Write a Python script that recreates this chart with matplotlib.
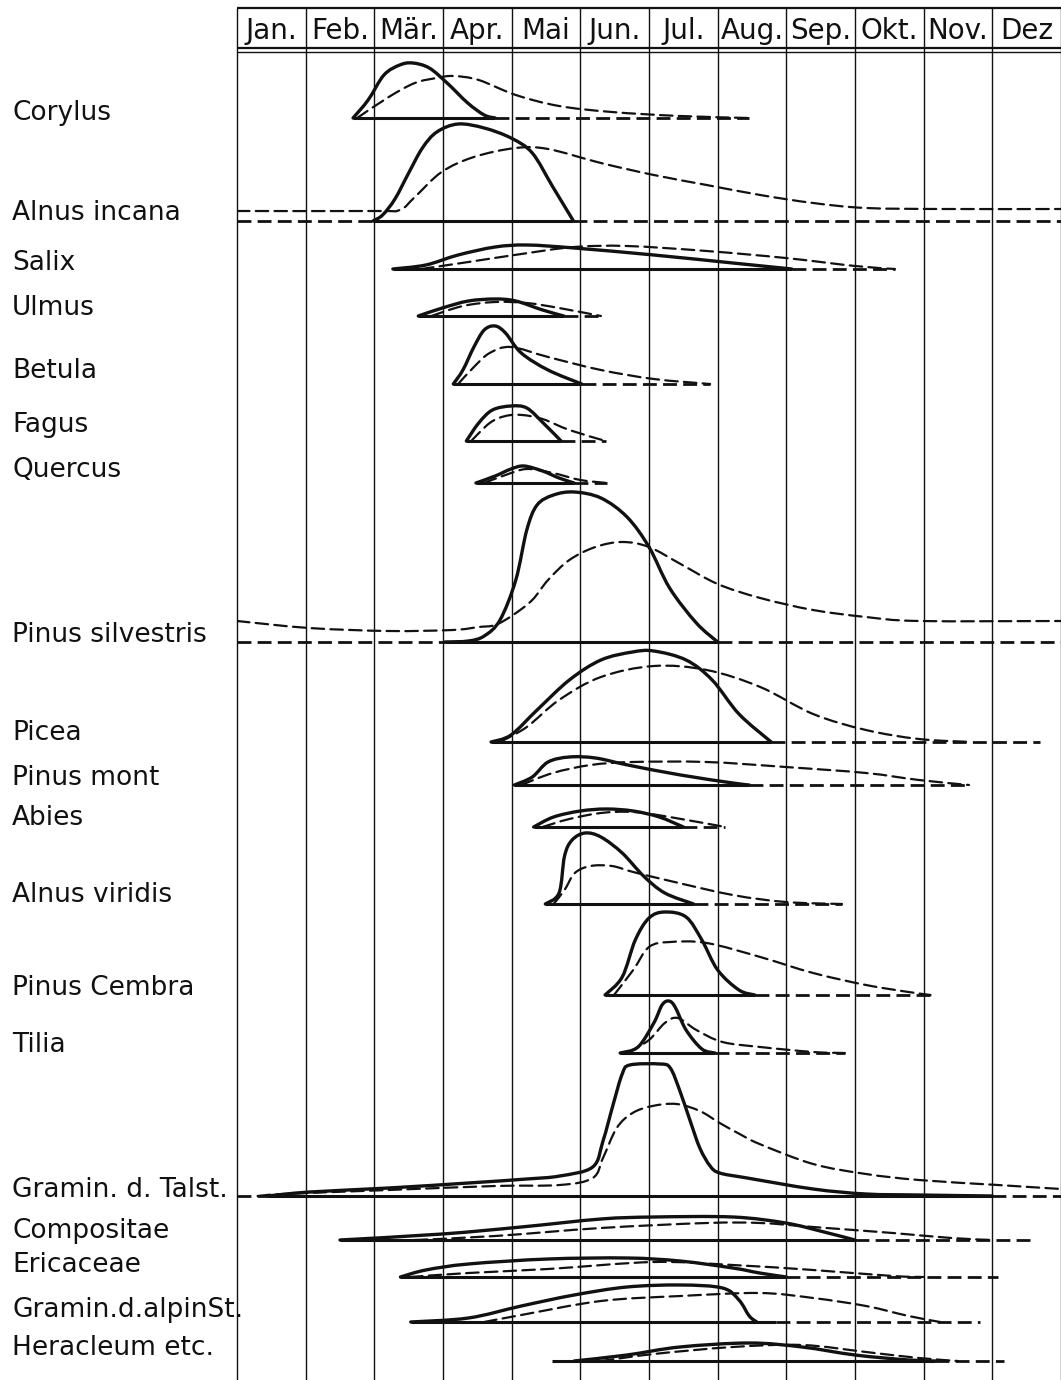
#!/usr/bin/env python3
"""Pollen flowering calendar: solid = flowering, dashed = pollen in the air."""

import matplotlib

matplotlib.use("Agg")
import matplotlib.pyplot as plt
import numpy as np
from matplotlib.patches import PathPatch
from matplotlib.path import Path

plt.rcParams["lines.scale_dashes"] = False
plt.rcParams["font.family"] = ["DejaVu Sans"]

OUTPUT = "out.png"

MONTHS = ["Jan.", "Feb.", "Mär.", "Apr.", "Mai", "Jun.", "Jul.", "Aug.", "Sep.", "Okt.", "Nov.", "Dez"]

LABELS = [
    "Corylus", "Alnus incana", "Salix", "Ulmus", "Betula", "Fagus", "Quercus",
    "Pinus silvestris", "Picea", "Pinus mont", "Abies", "Alnus viridis",
    "Pinus Cembra", "Tilia", "Gramin. d. Talst.", "Compositae", "Ericaceae",
    "Gramin.d.alpinSt.", "Heracleum etc.",
]

# curve x in months (0 = 1 Jan), heights in pixels above the row baseline
CORYLUS_SOLID_X = [1.69, 1.91, 2.14, 2.37, 2.56, 2.80, 3.06, 3.36, 3.60, 3.76]
CORYLUS_SOLID_H = [0, 18, 43, 53, 55, 50, 35, 15, 3, 0]
CORYLUS_DASH_X = [1.75, 2.21, 2.59, 2.91, 3.15, 3.52, 4.06, 4.69, 5.46, 6.45, 7.46]
CORYLUS_DASH_H = [0, 21, 35, 40, 42, 38, 23, 12, 6, 2, 0]

ALNUS_I_SOLID_X = [1.98, 2.12, 2.30, 2.50, 2.70, 2.91, 3.22, 3.60, 3.99, 4.30, 4.60, 4.90]
ALNUS_I_SOLID_H = [0, 6, 22, 48, 73, 89, 97, 93, 83, 68, 34, 0]
ALNUS_I_DASH_X = [0, 2.0, 2.37, 2.59, 2.98, 3.45, 4.06, 4.53, 5.30, 6.07, 6.84, 7.62, 8.39, 9.16, 10.3, 12]
ALNUS_I_DASH_H = [10, 10, 11, 24, 49, 64, 73, 72, 58, 46, 36, 26, 18, 13, 12, 12]

SALIX_SOLID_X = [2.27, 2.75, 3.22, 3.76, 4.22, 4.91, 6.07, 7.22, 8.08]
SALIX_SOLID_H = [0, 4, 14, 22, 24, 21, 14, 6, 0]
SALIX_DASH_X = [2.68, 3.37, 4.14, 4.91, 5.68, 6.84, 7.99, 9.0, 9.58]
SALIX_DASH_H = [0, 7, 15, 22, 23, 18, 11, 3, 0]

ULMUS_SOLID_X = [2.64, 2.99, 3.37, 3.76, 4.06, 4.45, 4.76]
ULMUS_SOLID_H = [0, 8, 15, 17, 15, 6, 0]
ULMUS_DASH_X = [2.83, 3.29, 3.76, 4.22, 4.69, 5.30]
ULMUS_DASH_H = [0, 10, 14, 13, 8, 0]

BETULA_SOLID_X = [3.15, 3.29, 3.45, 3.60, 3.76, 3.91, 4.14, 4.53, 5.02]
BETULA_SOLID_H = [0, 14, 37, 54, 58, 51, 31, 14, 0]
BETULA_DASH_X = [3.22, 3.45, 3.68, 3.99, 4.53, 5.30, 6.07, 6.89]
BETULA_DASH_H = [0, 17, 31, 37, 27, 14, 5, 0]

FAGUS_SOLID_X = [3.34, 3.52, 3.72, 3.99, 4.22, 4.46, 4.72]
FAGUS_SOLID_H = [0, 18, 31, 35, 33, 18, 0]
FAGUS_DASH_X = [3.41, 3.68, 3.91, 4.15, 4.45, 4.84, 5.37]
FAGUS_DASH_H = [0, 18, 25, 26, 22, 11, 0]

QUERCUS_SOLID_X = [3.48, 3.76, 3.99, 4.18, 4.45, 4.69, 4.91]
QUERCUS_SOLID_H = [0, 7, 14, 17, 12, 5, 0]
QUERCUS_DASH_X = [3.60, 3.91, 4.22, 4.60, 5.0, 5.39]
QUERCUS_DASH_H = [0, 8, 14, 10, 3, 0]

PINUS_S_SOLID_X = [3.03, 3.37, 3.60, 3.83, 4.06, 4.22, 4.37, 4.61, 4.91, 5.30, 5.68, 6.0, 6.30, 6.69, 7.0]
PINUS_S_SOLID_H = [0, 1, 6, 22, 62, 112, 137, 147, 150, 144, 125, 95, 54, 19, 0]
PINUS_S_DASH_X = [0, 1.05, 2.21, 3.14, 3.52, 3.76, 4.02, 4.30, 4.53, 4.84, 5.22, 5.61, 6.0, 6.46, 7.0,
                  7.62, 8.39, 9.16, 9.93, 12]
PINUS_S_DASH_H = [21, 14, 11, 12, 15, 17, 27, 42, 62, 82, 95, 100, 95, 78, 58, 44, 32, 25, 21, 21]

PICEA_SOLID_X = [3.70, 3.99, 4.37, 4.84, 5.30, 5.76, 6.07, 6.54, 6.92, 7.31, 7.78]
PICEA_SOLID_H = [0, 7, 32, 62, 82, 90, 91, 82, 62, 28, 0]
PICEA_DASH_X = [3.83, 4.22, 4.69, 5.30, 6.07, 6.84, 7.62, 8.39, 9.16, 9.93, 10.7]
PICEA_DASH_H = [0, 15, 42, 65, 76, 72, 55, 28, 12, 3, 0]

PINUS_M_SOLID_X = [4.04, 4.30, 4.53, 4.84, 5.22, 5.69, 6.46, 7.22, 7.46]
PINUS_M_SOLID_H = [0, 8, 23, 28, 27, 20, 10, 2, 0]
PINUS_M_DASH_X = [4.14, 4.60, 5.15, 5.76, 6.84, 7.99, 9.16, 9.93, 10.66]
PINUS_M_DASH_H = [0, 12, 20, 23, 23, 18, 12, 5, 0]

ABIES_SOLID_X = [4.32, 4.61, 5.0, 5.38, 5.77, 6.15, 6.5]
ABIES_SOLID_H = [0, 10, 16, 18, 16, 10, 0]
ABIES_DASH_X = [4.45, 4.84, 5.30, 5.77, 6.30, 7.11]
ABIES_DASH_H = [0, 8, 14, 15, 10, 0]

ALNUS_V_SOLID_X = [4.49, 4.69, 4.77, 4.88, 5.07, 5.30, 5.61, 5.92, 6.23, 6.65]
ALNUS_V_SOLID_H = [0, 11, 48, 64, 71, 67, 51, 28, 11, 0]
ALNUS_V_DASH_X = [4.61, 4.77, 4.92, 5.15, 5.46, 5.77, 6.31, 7.22, 7.99, 8.81]
ALNUS_V_DASH_H = [0, 14, 31, 38, 38, 32, 23, 9, 2, 0]

CEMBRA_SOLID_X = [5.36, 5.61, 5.80, 6.0, 6.23, 6.54, 6.77, 7.0, 7.31, 7.54]
CEMBRA_SOLID_H = [0, 18, 55, 77, 83, 78, 55, 25, 5, 0]
CEMBRA_DASH_X = [5.49, 5.77, 6.0, 6.31, 6.84, 7.62, 8.39, 9.16, 9.78, 10.1]
CEMBRA_DASH_H = [0, 25, 48, 53, 52, 38, 22, 10, 3, 0]

TILIA_SOLID_X = [5.58, 5.84, 6.07, 6.19, 6.29, 6.38, 6.54, 6.77, 6.96]
TILIA_SOLID_H = [0, 6, 30, 48, 52, 46, 23, 4, 0]
TILIA_DASH_X = [5.69, 6.0, 6.23, 6.42, 6.69, 7.07, 7.62, 8.39, 8.85]
TILIA_DASH_H = [0, 13, 30, 35, 23, 11, 6, 1, 0]

GRAMIN_T_SOLID_X = [0.44, 1.06, 2.21, 3.37, 4.22, 4.70, 5.18, 5.33, 5.48, 5.61, 5.72, 6.16, 6.31, 6.45,
                    6.60, 6.74, 6.89, 7.03, 7.43, 8.39, 9.16, 9.93, 11.0]
GRAMIN_T_SOLID_H = [0, 4, 8, 13, 17, 20, 29, 55, 92, 122, 131, 132, 128, 105, 75, 48, 30, 23, 18, 7, 2, 1, 0]
GRAMIN_T_DASH_X = [0.3, 0.67, 2.21, 3.76, 4.70, 5.18, 5.33, 5.53, 5.76, 6.05, 6.40, 6.74, 7.03, 7.32,
                   7.61, 8.39, 9.16, 9.93, 11.08, 12]
GRAMIN_T_DASH_H = [0, 2, 6, 10, 11, 18, 38, 68, 83, 90, 92, 85, 73, 62, 52, 32, 22, 16, 11, 7]

COMPOSITAE_SOLID_X = [1.50, 2.99, 4.14, 5.30, 6.07, 7.22, 7.99, 8.55, 9.0]
COMPOSITAE_SOLID_H = [0, 6, 13, 21, 23, 23, 17, 8, 0]
COMPOSITAE_DASH_X = [2.59, 3.76, 5.30, 6.84, 7.62, 8.39, 9.55, 10.4, 11.0]
COMPOSITAE_DASH_H = [0, 4, 12, 17, 17, 13, 7, 2, 0]

ERICACEAE_SOLID_X = [2.38, 2.75, 3.37, 4.53, 5.68, 6.45, 7.22, 7.61, 8.0]
ERICACEAE_SOLID_H = [0, 7, 13, 18, 19, 16, 9, 4, 0]
ERICACEAE_DASH_X = [2.52, 3.37, 4.53, 6.07, 7.22, 8.39, 9.55, 10.0]
ERICACEAE_DASH_H = [0, 4, 8, 15, 12, 7, 1, 0]

GRAMIN_A_SOLID_X = [2.53, 3.37, 4.14, 4.91, 5.68, 6.46, 7.07, 7.31, 7.46, 7.57]
GRAMIN_A_SOLID_H = [0, 4, 16, 27, 35, 37, 34, 22, 6, 0]
GRAMIN_A_DASH_X = [3.60, 4.14, 5.30, 6.46, 7.61, 8.39, 9.16, 9.78, 10.24]
GRAMIN_A_DASH_H = [0, 7, 21, 26, 29, 24, 16, 6, 0]

HERACLEUM_SOLID_X = [4.91, 5.68, 6.45, 7.46, 8.23, 9.0, 9.78, 10.17]
HERACLEUM_SOLID_H = [0, 6, 14, 18, 14, 6, 1, 0]
HERACLEUM_DASH_X = [5.30, 6.07, 7.22, 8.23, 9.16, 9.93, 10.5]
HERACLEUM_DASH_H = [0, 7, 14, 16, 9, 3, 0]

# baseline extents in months: solid part, then dashed continuation
BASE_SOLID_START = [1.69, 1.98, 2.27, 2.64, 3.15, 3.34, 3.48, 3.03, 3.70, 4.04, 4.32, 4.49, 5.36, 5.58,
                    0.44, 1.50, 2.38, 2.53, 4.59]
BASE_SOLID_END = [3.76, 4.90, 8.08, 4.76, 5.02, 4.72, 4.91, 7.0, 7.78, 7.46, 6.5, 6.65, 7.54, 6.96,
                  11.0, 9.0, 8.0, 7.85, 10.17]
BASE_DASH_END = [7.46, 12, 9.58, 5.30, 6.89, 5.37, 5.39, 12, 11.7, 10.66, 7.11, 8.81, 10.1, 8.85,
                 12, 11.63, 11.08, 10.82, 11.17]
BASE_DASH_LEFT = [None, 0, None, None, None, None, None, 0, None, None, None, None, None, None,
                  0, None, None, None, None]

# layout (pixel rows of the 1061 x 1380 sheet)
ROW_Y = [118, 221, 269, 316, 384, 441, 483, 642, 742, 785, 827, 904, 995, 1053, 1196, 1240, 1277, 1322, 1361]
LABEL_Y = [120, 220, 270, 315, 378, 432, 477, 642, 740, 785, 825, 902, 995, 1052, 1197, 1238, 1272, 1317, 1355]
WIDTH, HEIGHT = 1061, 1380
GRID_LEFT = 237
MONTH_PX = (WIDTH - GRID_LEFT) / 12
LABEL_X = (12 - GRID_LEFT) / MONTH_PX
INK = "#111111"
CURVE_DASH = (0, (9.0, 4.5))
BASE_DASH = (0, (10.0, 4.5))


def smooth_path(xs, ys):
    pts = np.column_stack([xs, ys]).astype(float)
    n = len(pts)
    verts = [pts[0]]
    codes = [Path.MOVETO]
    for i in range(n - 1):
        p0 = pts[i - 1] if i > 0 else pts[i]
        p1, p2 = pts[i], pts[i + 1]
        p3 = pts[i + 2] if i + 2 < n else pts[i + 1]
        verts += [p1 + (p2 - p0) / 6.0, p2 - (p3 - p1) / 6.0, p2]
        codes += [Path.CURVE4] * 3
    return Path(verts, codes)


def draw_curve(ax, xs, hs, base, dashed):
    ys = base - np.asarray(hs, dtype=float)
    patch = PathPatch(
        smooth_path(xs, ys),
        fill=False,
        edgecolor=INK,
        linewidth=1.6 if dashed else 2.4,
        linestyle=CURVE_DASH if dashed else "-",
        capstyle="round",
        joinstyle="round",
    )
    ax.add_patch(patch)


def main() -> None:
    solids = [
        (CORYLUS_SOLID_X, CORYLUS_SOLID_H), (ALNUS_I_SOLID_X, ALNUS_I_SOLID_H), (SALIX_SOLID_X, SALIX_SOLID_H),
        (ULMUS_SOLID_X, ULMUS_SOLID_H), (BETULA_SOLID_X, BETULA_SOLID_H), (FAGUS_SOLID_X, FAGUS_SOLID_H),
        (QUERCUS_SOLID_X, QUERCUS_SOLID_H), (PINUS_S_SOLID_X, PINUS_S_SOLID_H), (PICEA_SOLID_X, PICEA_SOLID_H),
        (PINUS_M_SOLID_X, PINUS_M_SOLID_H), (ABIES_SOLID_X, ABIES_SOLID_H), (ALNUS_V_SOLID_X, ALNUS_V_SOLID_H),
        (CEMBRA_SOLID_X, CEMBRA_SOLID_H), (TILIA_SOLID_X, TILIA_SOLID_H), (GRAMIN_T_SOLID_X, GRAMIN_T_SOLID_H),
        (COMPOSITAE_SOLID_X, COMPOSITAE_SOLID_H), (ERICACEAE_SOLID_X, ERICACEAE_SOLID_H),
        (GRAMIN_A_SOLID_X, GRAMIN_A_SOLID_H), (HERACLEUM_SOLID_X, HERACLEUM_SOLID_H),
    ]
    dashes = [
        (CORYLUS_DASH_X, CORYLUS_DASH_H), (ALNUS_I_DASH_X, ALNUS_I_DASH_H), (SALIX_DASH_X, SALIX_DASH_H),
        (ULMUS_DASH_X, ULMUS_DASH_H), (BETULA_DASH_X, BETULA_DASH_H), (FAGUS_DASH_X, FAGUS_DASH_H),
        (QUERCUS_DASH_X, QUERCUS_DASH_H), (PINUS_S_DASH_X, PINUS_S_DASH_H), (PICEA_DASH_X, PICEA_DASH_H),
        (PINUS_M_DASH_X, PINUS_M_DASH_H), (ABIES_DASH_X, ABIES_DASH_H), (ALNUS_V_DASH_X, ALNUS_V_DASH_H),
        (CEMBRA_DASH_X, CEMBRA_DASH_H), (TILIA_DASH_X, TILIA_DASH_H), (GRAMIN_T_DASH_X, GRAMIN_T_DASH_H),
        (COMPOSITAE_DASH_X, COMPOSITAE_DASH_H), (ERICACEAE_DASH_X, ERICACEAE_DASH_H),
        (GRAMIN_A_DASH_X, GRAMIN_A_DASH_H), (HERACLEUM_DASH_X, HERACLEUM_DASH_H),
    ]

    fig = plt.figure(figsize=(WIDTH / 100, HEIGHT / 100), dpi=100, facecolor="white")
    ax = fig.add_axes([GRID_LEFT / WIDTH, 0, 1 - GRID_LEFT / WIDTH, 1])
    ax.set_xlim(0, 12)
    ax.set_ylim(HEIGHT, 0)
    ax.axis("off")

    # month grid and header box
    ax.vlines(np.arange(13), 8, HEIGHT, color=INK, linewidth=1.0, clip_on=False)
    ax.hlines(8, 0, 12, color=INK, linewidth=1.6, clip_on=False)
    ax.hlines([48, 52], 0, 12, color=INK, linewidth=[1.6, 1.0], clip_on=False)
    for i, name in enumerate(MONTHS):
        ax.text(i + 0.5, 39, name, ha="center", va="baseline", fontsize=20, color=INK)

    for i, label in enumerate(LABELS):
        base = ROW_Y[i]
        ax.text(LABEL_X, LABEL_Y[i], label, ha="left", va="baseline", fontsize=19, color=INK, clip_on=False)
        ax.hlines(base, BASE_SOLID_START[i], BASE_SOLID_END[i], color=INK, linewidth=2.2)
        ax.hlines(base, BASE_SOLID_END[i], BASE_DASH_END[i], color=INK, linewidth=2.0, linestyle=BASE_DASH)
        if BASE_DASH_LEFT[i] is not None:
            ax.hlines(base, BASE_DASH_LEFT[i], BASE_SOLID_START[i], color=INK, linewidth=2.0, linestyle=BASE_DASH)
        draw_curve(ax, *dashes[i], base, dashed=True)
        draw_curve(ax, *solids[i], base, dashed=False)

    fig.savefig(OUTPUT, dpi=100, facecolor="white")
    plt.close(fig)


if __name__ == "__main__":
    main()
